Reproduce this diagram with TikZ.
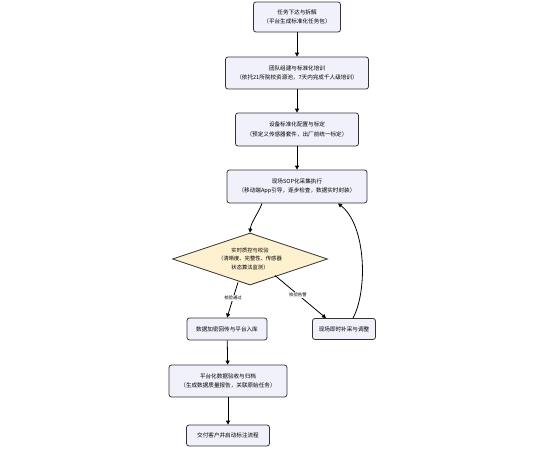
\documentclass[tikz,border=0pt]{standalone}
\usepackage{fontspec}
\setmainfont{Noto Sans CJK SC}
\usetikzlibrary{shapes.geometric,arrows.meta}
\definecolor{boxfill}{HTML}{F0F1FA}
\definecolor{diafill}{HTML}{FDF1CF}
\definecolor{edge}{HTML}{333333}
\begin{document}
\begin{tikzpicture}[x=1pt,y=-1pt,
  box/.style={draw=edge,line width=0.8pt,rounded corners=2.5pt,fill=boxfill,align=center,
    font=\fontsize{5.6}{9.5}\selectfont,inner sep=0pt},
  dia/.style={diamond,draw=edge,line width=0.8pt,fill=diafill,align=center,aspect=3,
    font=\fontsize{5.3}{8.5}\selectfont,inner sep=0pt},
  arr/.style={draw=black,line width=0.8pt,-{Triangle[length=4pt,width=4pt]}},
  lab/.style={fill=white,font=\fontsize{4.4}{5}\selectfont,inner sep=1pt}]
\useasboundingbox[fill=white] (0,0) rectangle (552,453);
\node[box,minimum width=87pt,minimum height=30pt] (n1) at (297,17) {任务下达与拆解\\（平台生成标准化任务包）};
\node[box,minimum width=143pt,minimum height=32pt] (n2) at (297,73) {团队组建与标准化培训\\（依托21所院校资源池，7天内完成千人级培训）};
\node[box,minimum width=123pt,minimum height=33pt] (n3) at (297,129.5) {设备标准化配置与标定\\（预定义传感器套件，出厂前统一标定）};
\node[box,minimum width=140pt,minimum height=33pt] (n4) at (297,186.5) {现场SOP化采集执行\\（移动端App引导，逐步检查，数据实时封装）};
\node[dia,minimum width=155pt,minimum height=52pt] (d) at (250,259) {实时质控与校验\\（清晰度、完整性、传感器\\状态算法监测）};
\node[box,minimum width=80pt,minimum height=22pt] (n5) at (227,329) {数据加密回传与平台入库};
\node[box,minimum width=63pt,minimum height=21pt] (n6) at (344,329) {现场即时补采与调整};
\node[box,minimum width=118pt,minimum height=32pt] (n7) at (228,381) {平台化数据验收与归档\\（生成数据质量报告，关联原始任务）};
\node[box,minimum width=83pt,minimum height=21pt] (n8) at (228,435.5) {交付客户并启动标注流程};
\draw[arr] (n1) -- (n2);
\draw[arr] (n2) -- (n3);
\draw[arr] (n3) -- (n4);
\draw[arr] (n4.south -| 262,0) .. controls (258,214) and (251,222) .. (d.north);
\draw[arr] (d.south -| 238,0) ++(0,-3) -- node[lab,pos=0.45]{校验通过} (n5.north -| 227,0);
\draw[arr] (275,275.5) -- node[lab,pos=0.45]{校验告警} (n6.north -| 326,0);
\draw[arr] (n6.north -| 353,0) .. controls (368,290) and (366,225) .. (n4.south -| 338,0);
\draw[arr] (n5) -- (n7);
\draw[arr] (n7) -- (n8);
\end{tikzpicture}
\end{document}
